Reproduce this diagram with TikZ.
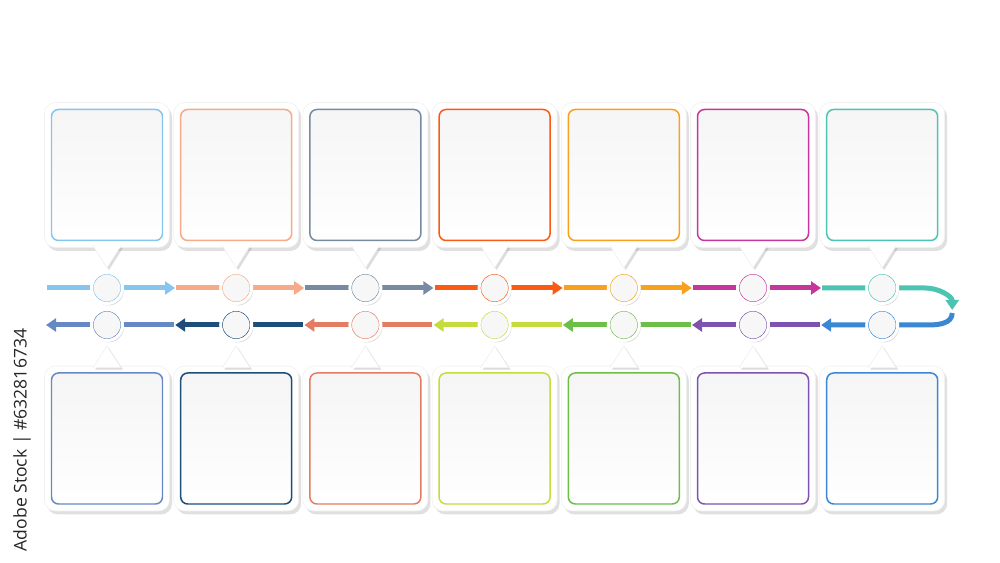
\documentclass[tikz,border=0pt]{standalone}
\usepackage{fontspec}
\newfontfamily\stockfont{Open Sans}
\usepackage{tikz}
\usetikzlibrary{calc}
\usetikzlibrary{arrows.meta, shadows, backgrounds}

\definecolor{skyblue}{HTML}{86C5EF}
\definecolor{peach}{HTML}{F8AA88}
\definecolor{slate}{HTML}{768AA3}
\definecolor{redorange}{HTML}{FB5A14}
\definecolor{amber}{HTML}{F8A11E}
\definecolor{berry}{HTML}{C6369C}
\definecolor{mint}{HTML}{4DC4B2}
\definecolor{denim}{HTML}{6689C6}
\definecolor{ink}{HTML}{1D4D78}
\definecolor{salmon}{HTML}{E47B63}
\definecolor{limey}{HTML}{C6DB3E}
\definecolor{leaf}{HTML}{6CBF47}
\definecolor{grape}{HTML}{7D52B1}
\definecolor{ocean}{HTML}{3B87D3}

\begin{document}
\begin{tikzpicture}[node distance=2.584cm,
  dot/.style={circle, fill=black!3, draw=white, line width=.06cm, minimum size=.62cm, inner sep=0pt,
    drop shadow={shadow xshift=.03cm, shadow yshift=-.04cm, fill=black!40, opacity=.35},
    path picture={\draw[line width=.6pt, #1] (path picture bounding box.center) circle (.28cm);}},
  card/.style={rectangle, rounded corners=.22cm, fill=white, draw=black!6, line width=.3pt,
    minimum width=2.5cm, minimum height=2.9cm, inner sep=0pt,
    drop shadow={shadow xshift=.05cm, shadow yshift=-.07cm, fill=black!40, opacity=.3},
    path picture={\draw[#1, line width=.85pt, rounded corners=.14cm, top color=black!4, bottom color=white]
      ($(path picture bounding box.south west)+(.14,.14)$) rectangle ($(path picture bounding box.north east)+(-.14,-.14)$);}},
  pointer/.style={fill=white, draw=black!7, line width=.3pt,
    drop shadow={shadow xshift=.04cm, shadow yshift=-.04cm, fill=black!45, opacity=.3}},
  flow/.style={line width=.1cm, -{Triangle[length=.2cm, width=.26cm]}}]
  \useasboundingbox (0,0) rectangle (20,11.26);

  % steps on the upper track
  \node[dot=skyblue]   (t1) at (2.14,5.5) {};
  \node[dot=peach]     (t2) [right of=t1] {};
  \node[dot=slate]     (t3) [right of=t2] {};
  \node[dot=redorange] (t4) [right of=t3] {};
  \node[dot=amber]     (t5) [right of=t4] {};
  \node[dot=berry]     (t6) [right of=t5] {};
  \node[dot=mint]      (t7) [right of=t6] {};

  % steps on the lower track
  \node[dot=denim]  (b1) [below of=t1, node distance=.74cm] {};
  \node[dot=ink]    (b2) [below of=t2, node distance=.74cm] {};
  \node[dot=salmon] (b3) [below of=t3, node distance=.74cm] {};
  \node[dot=limey]  (b4) [below of=t4, node distance=.74cm] {};
  \node[dot=leaf]   (b5) [below of=t5, node distance=.74cm] {};
  \node[dot=grape]  (b6) [below of=t6, node distance=.74cm] {};
  \node[dot=ocean]  (b7) [below of=t7, node distance=.74cm] {};

  % cards
  \node[card=skyblue]   (c1) [above of=t1, node distance=2.26cm] {};
  \node[card=peach]     (c2) [above of=t2, node distance=2.26cm] {};
  \node[card=slate]     (c3) [above of=t3, node distance=2.26cm] {};
  \node[card=redorange] (c4) [above of=t4, node distance=2.26cm] {};
  \node[card=amber]     (c5) [above of=t5, node distance=2.26cm] {};
  \node[card=berry]     (c6) [above of=t6, node distance=2.26cm] {};
  \node[card=mint]      (c7) [above of=t7, node distance=2.26cm] {};

  \node[card=denim]  (d1) [below of=b1, node distance=2.27cm] {};
  \node[card=ink]    (d2) [below of=b2, node distance=2.27cm] {};
  \node[card=salmon] (d3) [below of=b3, node distance=2.27cm] {};
  \node[card=limey]  (d4) [below of=b4, node distance=2.27cm] {};
  \node[card=leaf]   (d5) [below of=b5, node distance=2.27cm] {};
  \node[card=grape]  (d6) [below of=b6, node distance=2.27cm] {};
  \node[card=ocean]  (d7) [below of=b7, node distance=2.27cm] {};

  % pointers (open paths: only the two sides get a line)
  \path[pointer] ($(c1.south)+(-.28,.04)$) -- ($(t1.north)+(0,.06)$) -- ($(c1.south)+(.28,.04)$);
  \path[pointer] ($(c2.south)+(-.28,.04)$) -- ($(t2.north)+(0,.06)$) -- ($(c2.south)+(.28,.04)$);
  \path[pointer] ($(c3.south)+(-.28,.04)$) -- ($(t3.north)+(0,.06)$) -- ($(c3.south)+(.28,.04)$);
  \path[pointer] ($(c4.south)+(-.28,.04)$) -- ($(t4.north)+(0,.06)$) -- ($(c4.south)+(.28,.04)$);
  \path[pointer] ($(c5.south)+(-.28,.04)$) -- ($(t5.north)+(0,.06)$) -- ($(c5.south)+(.28,.04)$);
  \path[pointer] ($(c6.south)+(-.28,.04)$) -- ($(t6.north)+(0,.06)$) -- ($(c6.south)+(.28,.04)$);
  \path[pointer] ($(c7.south)+(-.28,.04)$) -- ($(t7.north)+(0,.06)$) -- ($(c7.south)+(.28,.04)$);

  \path[pointer] ($(d1.north)+(-.28,-.04)$) -- ($(b1.south)+(0,-.08)$) -- ($(d1.north)+(.28,-.04)$);
  \path[pointer] ($(d2.north)+(-.28,-.04)$) -- ($(b2.south)+(0,-.08)$) -- ($(d2.north)+(.28,-.04)$);
  \path[pointer] ($(d3.north)+(-.28,-.04)$) -- ($(b3.south)+(0,-.08)$) -- ($(d3.north)+(.28,-.04)$);
  \path[pointer] ($(d4.north)+(-.28,-.04)$) -- ($(b4.south)+(0,-.08)$) -- ($(d4.north)+(.28,-.04)$);
  \path[pointer] ($(d5.north)+(-.28,-.04)$) -- ($(b5.south)+(0,-.08)$) -- ($(d5.north)+(.28,-.04)$);
  \path[pointer] ($(d6.north)+(-.28,-.04)$) -- ($(b6.south)+(0,-.08)$) -- ($(d6.north)+(.28,-.04)$);
  \path[pointer] ($(d7.north)+(-.28,-.04)$) -- ($(b7.south)+(0,-.08)$) -- ($(d7.north)+(.28,-.04)$);

  % the track runs behind the steps
  \begin{pgfonlayer}{background}
    \draw[flow, skyblue]   ($(t1)+(-1.2,0)$) -- ($(t1)+(1.36,0)$);
    \draw[flow, peach]     ($(t2)+(-1.2,0)$) -- ($(t2)+(1.36,0)$);
    \draw[flow, slate]     ($(t3)+(-1.2,0)$) -- ($(t3)+(1.36,0)$);
    \draw[flow, redorange] ($(t4)+(-1.2,0)$) -- ($(t4)+(1.36,0)$);
    \draw[flow, amber]     ($(t5)+(-1.2,0)$) -- ($(t5)+(1.36,0)$);
    \draw[flow, berry]     ($(t6)+(-1.2,0)$) -- ($(t6)+(1.36,0)$);
    \draw[flow, mint]      ($(t7)+(-1.2,0)$) -- ($(t7)+(.86,0)$) to[out=0, in=90] ($(t7)+(1.4,-.44)$);
    \draw[flow, ocean]     ($(t7)+(1.4,-.5)$) to[out=-90, in=0] ($(b7)+(.92,0)$) -- ($(b7)+(-1.22,0)$);
    \draw[flow, grape]     ($(b6)+(1.34,0)$) -- ($(b6)+(-1.22,0)$);
    \draw[flow, leaf]      ($(b5)+(1.34,0)$) -- ($(b5)+(-1.22,0)$);
    \draw[flow, limey]     ($(b4)+(1.34,0)$) -- ($(b4)+(-1.22,0)$);
    \draw[flow, salmon]    ($(b3)+(1.34,0)$) -- ($(b3)+(-1.22,0)$);
    \draw[flow, ink]       ($(b2)+(1.34,0)$) -- ($(b2)+(-1.22,0)$);
    \draw[flow, denim]     ($(b1)+(1.34,0)$) -- ($(b1)+(-1.22,0)$);
  \end{pgfonlayer}

  \node[rotate=90, text=black!85, font=\stockfont\fontsize{10}{12}\selectfont] (stock) at (.44,2.46) {Adobe Stock | \#632816734};
\end{tikzpicture}
\end{document}
